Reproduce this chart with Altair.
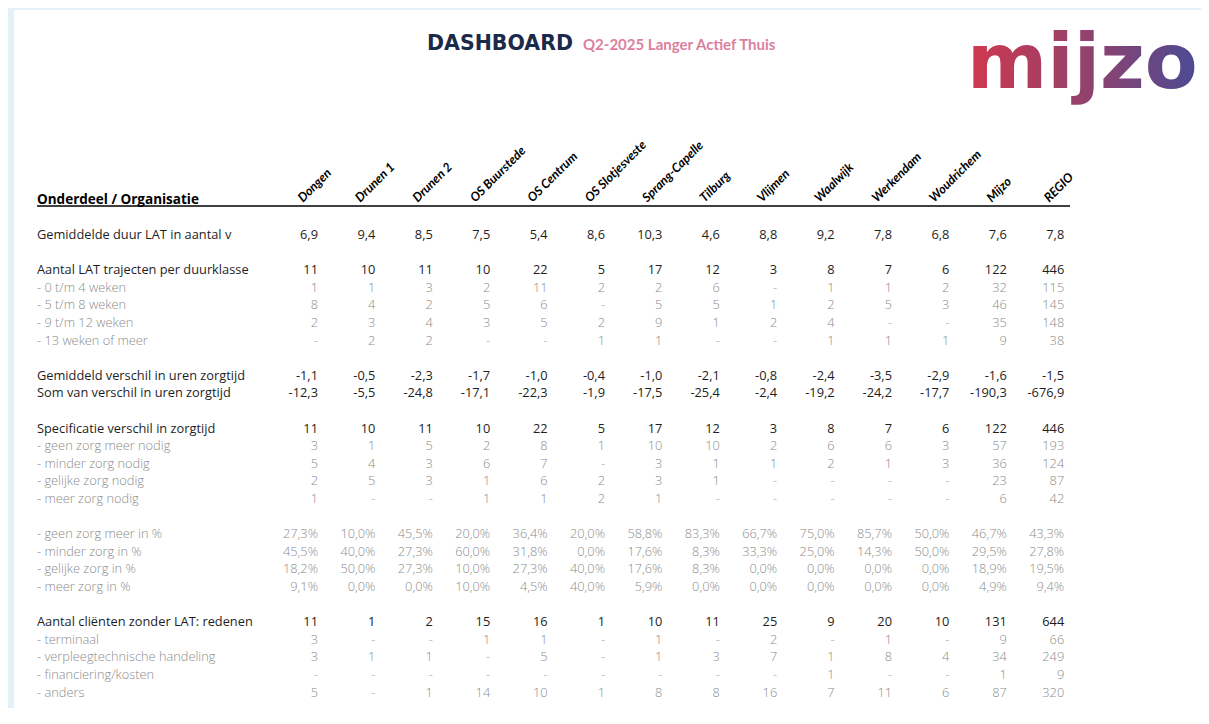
import altair as alt
import pandas as pd

# ---------------- data ----------------
orgs = ["Dongen", "Drunen 1", "Drunen 2", "OS Buurstede", "OS Centrum", "OS Slotjesveste",
        "Sprang-Capelle", "Tilburg", "Vlijmen", "Waalwijk", "Werkendam", "Woudrichem", "Mijzo", "REGIO"]

gem_duur = [6.9, 9.4, 8.5, 7.5, 5.4, 8.6, 10.3, 4.6, 8.8, 9.2, 7.8, 6.8, 7.6, 7.8]

aantal_lat = [11, 10, 11, 10, 22, 5, 17, 12, 3, 8, 7, 6, 122, 446]
w0_4 = [1, 1, 3, 2, 11, 2, 2, 6, None, 1, 1, 2, 32, 115]
w5_8 = [8, 4, 2, 5, 6, None, 5, 5, 1, 2, 5, 3, 46, 145]
w9_12 = [2, 3, 4, 3, 5, 2, 9, 1, 2, 4, None, None, 35, 148]
w13 = [None, 2, 2, None, None, 1, 1, None, None, 1, 1, 1, 9, 38]

gem_verschil = [-1.1, -0.5, -2.3, -1.7, -1.0, -0.4, -1.0, -2.1, -0.8, -2.4, -3.5, -2.9, -1.6, -1.5]
som_verschil = [-12.3, -5.5, -24.8, -17.1, -22.3, -1.9, -17.5, -25.4, -2.4, -19.2, -24.2, -17.7, -190.3, -676.9]

spec_totaal = [11, 10, 11, 10, 22, 5, 17, 12, 3, 8, 7, 6, 122, 446]
geen_zorg = [3, 1, 5, 2, 8, 1, 10, 10, 2, 6, 6, 3, 57, 193]
minder_zorg = [5, 4, 3, 6, 7, None, 3, 1, 1, 2, 1, 3, 36, 124]
gelijke_zorg = [2, 5, 3, 1, 6, 2, 3, 1, None, None, None, None, 23, 87]
meer_zorg = [1, None, None, 1, 1, 2, 1, None, None, None, None, None, 6, 42]

pct_geen = [27.3, 10.0, 45.5, 20.0, 36.4, 20.0, 58.8, 83.3, 66.7, 75.0, 85.7, 50.0, 46.7, 43.3]
pct_minder = [45.5, 40.0, 27.3, 60.0, 31.8, 0.0, 17.6, 8.3, 33.3, 25.0, 14.3, 50.0, 29.5, 27.8]
pct_gelijk = [18.2, 50.0, 27.3, 10.0, 27.3, 40.0, 17.6, 8.3, 0.0, 0.0, 0.0, 0.0, 18.9, 19.5]
pct_meer = [9.1, 0.0, 0.0, 10.0, 4.5, 40.0, 5.9, 0.0, 0.0, 0.0, 0.0, 0.0, 4.9, 9.4]

zonder_lat = [11, 1, 2, 15, 16, 1, 10, 11, 25, 9, 20, 10, 131, 644]
terminaal = [3, None, None, 1, 1, None, 1, None, 2, None, 1, None, 9, 66]
verpleeg = [3, 1, 1, None, 5, None, 1, 3, 7, 1, 8, 4, 34, 249]
financiering = [None, None, None, None, None, None, None, None, None, 1, None, None, 1, 9]
anders = [5, None, 1, 14, 10, 1, 8, 8, 16, 7, 11, 6, 87, 320]

header_label = "Onderdeel / Organisatie"
title_main = "DASHBOARD"
title_sub = "Q2-2025 Langer Actief Thuis"
logo_text = "mijzo"

# (row index, label, values, format, style)
rows = [
    (0, "Gemiddelde duur LAT in aantal v", gem_duur, "dec", "main"),
    (2, "Aantal LAT trajecten per duurklasse", aantal_lat, "int", "main"),
    (3, "- 0 t/m 4 weken", w0_4, "int", "sub"),
    (4, "- 5 t/m 8 weken", w5_8, "int", "sub"),
    (5, "- 9 t/m 12 weken", w9_12, "int", "sub"),
    (6, "- 13 weken of meer", w13, "int", "sub"),
    (8, "Gemiddeld verschil in uren zorgtijd", gem_verschil, "dec", "main"),
    (9, "Som van verschil in uren zorgtijd", som_verschil, "dec", "main"),
    (11, "Specificatie verschil in zorgtijd", spec_totaal, "int", "main"),
    (12, "- geen zorg meer nodig", geen_zorg, "int", "sub"),
    (13, "- minder zorg nodig", minder_zorg, "int", "sub"),
    (14, "- gelijke zorg nodig", gelijke_zorg, "int", "sub"),
    (15, "- meer zorg nodig", meer_zorg, "int", "sub"),
    (17, "- geen zorg meer in %", pct_geen, "pct", "sub"),
    (18, "- minder zorg in %", pct_minder, "pct", "sub"),
    (19, "- gelijke zorg in %", pct_gelijk, "pct", "sub"),
    (20, "- meer zorg in %", pct_meer, "pct", "sub"),
    (22, "Aantal cliënten zonder LAT: redenen", zonder_lat, "int", "main"),
    (23, "- terminaal", terminaal, "int", "sub"),
    (24, "- verpleegtechnische handeling", verpleeg, "int", "sub"),
    (25, "- financiering/kosten", financiering, "int", "sub"),
    (26, "- anders", anders, "int", "sub"),
]


def fmt(v, kind):
    if v is None:
        return "-"
    if kind == "dec":
        return f"{v:.1f}".replace(".", ",")
    if kind == "pct":
        return f"{v:.1f}%".replace(".", ",")
    return str(v)


label_recs, cell_recs = [], []
for r, lab, vals, kind, style in rows:
    label_recs.append({"r": r, "col": "L1", "text": lab, "style": style})
    for o, v in zip(orgs, vals):
        cell_recs.append({"r": r, "col": o, "text": fmt(v, kind),
                          "style": ("dash" if v is None else style)})

labels = pd.DataFrame(label_recs)
cells = pd.DataFrame(cell_recs)
heads = pd.DataFrame({"r": [-2] * len(orgs), "col": orgs, "text": orgs})
hdr = pd.DataFrame({"r": [-2], "col": ["L1"], "text": [header_label]})

# ---------------- scales ----------------
xs = alt.Scale(type="band", domain=["L1", "L2", "L3", "L4"] + orgs,
               range=[18, 1051.2], paddingInner=0, paddingOuter=0)
ys = alt.Scale(type="band", domain=list(range(-2, 27)),
               range=[181, 691.4], paddingInner=0, paddingOuter=0)
col_scale = alt.Scale(domain=["main", "sub", "dash"], range=["#1e1e1e", "#8c8c8c", "#a6a6a6"])

ROWFONT = "Open Sans"
FS = 12.8

lab_main = alt.Chart(labels[labels["style"] == "main"]).mark_text(
    align="left", dx=5, font=ROWFONT, fontSize=FS, color="#1e1e1e"
).encode(
    x=alt.X("col:N", scale=xs, axis=None, bandPosition=0),
    y=alt.Y("r:O", scale=ys, axis=None),
    text="text:N",
)
lab_sub = alt.Chart(labels[labels["style"] == "sub"]).mark_text(
    align="left", dx=5, font=ROWFONT, fontSize=FS, fontWeight=300, color="#8c8c8c"
).encode(
    x=alt.X("col:N", scale=xs, axis=None, bandPosition=0),
    y=alt.Y("r:O", scale=ys, axis=None),
    text="text:N",
)
val_main = alt.Chart(cells[cells["style"] == "main"]).mark_text(
    align="right", dx=-1, font=ROWFONT, fontSize=FS, color="#1e1e1e"
).encode(
    x=alt.X("col:N", scale=xs, axis=None, bandPosition=1),
    y=alt.Y("r:O", scale=ys, axis=None),
    text="text:N",
)
val_sub = alt.Chart(cells[cells["style"] != "main"]).mark_text(
    align="right", dx=-1, font=ROWFONT, fontSize=FS, fontWeight=300
).encode(
    x=alt.X("col:N", scale=xs, axis=None, bandPosition=1),
    y=alt.Y("r:O", scale=ys, axis=None),
    text="text:N",
    color=alt.Color("style:N", scale=col_scale, legend=None),
)
head_lab = alt.Chart(hdr).mark_text(
    align="left", dx=5, font="Open Sans", fontSize=13.5, fontWeight="bold", color="#000000"
).encode(
    x=alt.X("col:N", scale=xs, axis=None, bandPosition=0),
    y=alt.Y("r:O", scale=ys, axis=None),
    text="text:N",
)
col_heads = alt.Chart(heads).mark_text(
    align="left", baseline="alphabetic", angle=315, yOffset=3,
    font="Lato", fontSize=12.5, fontWeight="bold", fontStyle="italic", color="#000000"
).encode(
    x=alt.X("col:N", scale=xs, axis=None, bandPosition=0.72),
    y=alt.Y("r:O", scale=ys, axis=None),
    text="text:N",
)
underline = alt.Chart(pd.DataFrame({"r": [-2]})).mark_rule(
    color="#000000", strokeWidth=1.6, yOffset=-2.6
).encode(
    x=alt.value(23), x2=alt.value(1056),
    y=alt.Y("r:O", scale=ys, axis=None, bandPosition=1),
)

t_main = alt.Chart(pd.DataFrame({"t": [title_main]})).mark_text(
    align="left", baseline="alphabetic", font="DejaVu Sans", fontSize=20.5,
    fontWeight="bold", color="#1c2a4a"
).encode(x=alt.value(413), y=alt.value(40), text="t:N")
t_sub = alt.Chart(pd.DataFrame({"t": [title_sub]})).mark_text(
    align="left", baseline="alphabetic", font="Lato", fontSize=15,
    fontWeight="bold", color="#dc7f9e"
).encode(x=alt.value(569), y=alt.value(40), text="t:N")
logo = alt.Chart(pd.DataFrame({"t": [logo_text]})).mark_text(
    align="left", baseline="alphabetic", font="DejaVu Sans", fontSize=77, fontWeight="bold",
    color=alt.LinearGradient(gradient="linear", x1=0, x2=1, y1=0, y2=0,
                             stops=[alt.GradientStop(offset=0, color="#d1384e"),
                                    alt.GradientStop(offset=0.55, color="#8e426f"),
                                    alt.GradientStop(offset=1, color="#4b4b94")])
).encode(x=alt.value(953), y=alt.value(78), text="t:N")

chart = alt.layer(
    underline, lab_main, lab_sub, val_main, val_sub, head_lab, col_heads, t_main, t_sub, logo
).properties(
    width=1187, height=698,
    autosize=alt.AutoSizeParams(type="none"),
    padding={"left": 6, "top": 2, "right": 0, "bottom": 0},
    background="#e4f1f8",
).configure_view(stroke=None, fill="#ffffff")

chart.save("out.html", embed_options={"renderer": "svg", "actions": False})
